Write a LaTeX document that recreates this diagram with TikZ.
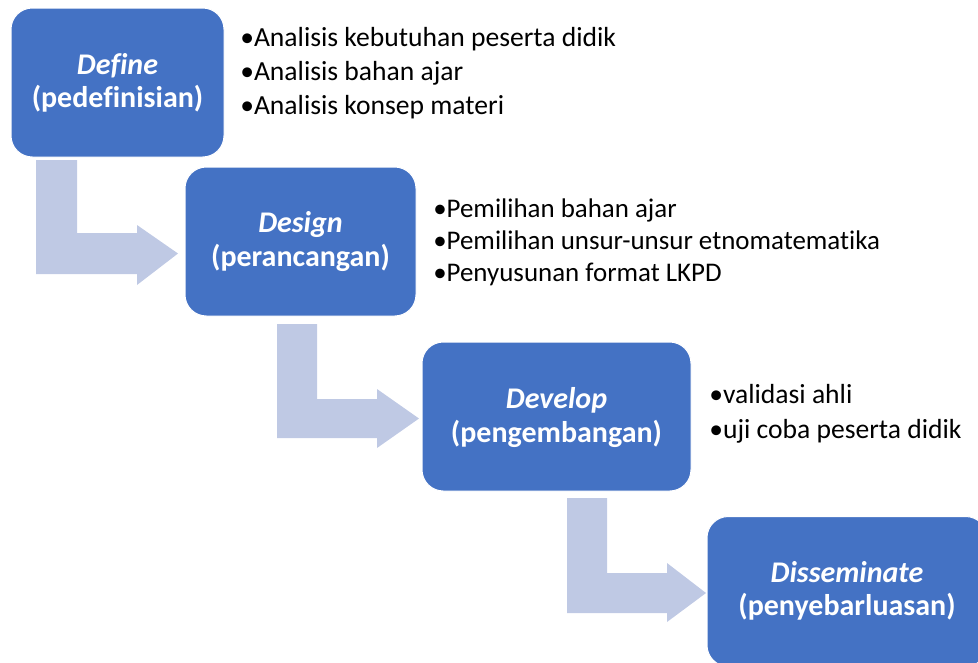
\documentclass[tikz,border=0pt]{standalone}
\usepackage{fontspec}
\setmainfont[Ligatures=NoCommon]{Carlito}
\definecolor{boxblue}{HTML}{4472C4}
\definecolor{arrowblue}{HTML}{BFC9E4}
\begin{document}
\begin{tikzpicture}[x=0.75pt,y=-0.75pt,
  stage/.style={draw=white, line width=0.75pt, fill=boxblue, rounded corners=16pt,
    minimum height=111.75pt, inner sep=0pt},
  ttl/.style={anchor=base, text=white, font=\fontsize{22.5}{26}\selectfont\bfseries\itshape, inner sep=0pt},
  sub/.style={anchor=base, text=white, font=\fontsize{22.5}{26}\selectfont\bfseries, inner sep=0pt},
  item/.style={anchor=base west, font=\fontsize{20.7}{25}\selectfont, inner sep=0pt, text=black},
  itemn/.style={item, font=\fontsize{20.2}{25}\selectfont},
  flow/.style={fill=arrowblue, draw=none}]
\useasboundingbox (0,0) rectangle (978,662);
\clip (0,0) rectangle (978,662);

% bent arrows
\fill[flow] (36,160) -- (77,160) -- (77,233) -- (137,233) -- (137,225) -- (178,253.5)
  -- (137,285) -- (137,274) -- (36,274) -- cycle;
\fill[flow] (277,324) -- (317,324) -- (317,399) -- (377,399) -- (377,389) -- (419,418.5)
  -- (377,448) -- (377,438) -- (277,438) -- cycle;
\fill[flow] (567,498) -- (607,498) -- (607,573) -- (667,573) -- (667,563) -- (706,593)
  -- (667,622) -- (667,613) -- (567,613) -- cycle;

% stages
\node[stage, minimum width=159.75pt] (define) at (117.5,82.5) {};
\node[stage, minimum width=173.25pt] (design) at (300.5,241.5) {};
\node[stage, minimum width=201.75pt] (develop) at (556.5,416.5) {};
\node[stage, minimum width=210pt, minimum height=112.5pt] (dissem) at (847,591.5) {};

\node[ttl] (defineA) at (117.5,74) {Define};
\node[sub] (defineB) at (117.5,107) {(pedefinisian)};
\node[ttl] (designA) at (300.5,232) {Design};
\node[sub] (designB) at (300.5,266) {(perancangan)};
\node[ttl] (developA) at (556.5,408) {Develop};
\node[sub] (developB) at (556.5,442) {(pengembangan)};
\node[ttl] (dissemA) at (847,582) {Disseminate};
\node[sub] (dissemB) at (847,615) {(penyebarluasan)};

% lists
\node[item] (l1a) at (240,46) {•Analisis kebutuhan peserta didik};
\node[item] (l1b) at (240,80) {•Analisis bahan ajar};
\node[item] (l1c) at (240,114) {•Analisis konsep materi};

\node[itemn] (l2a) at (433,217) {•Pemilihan bahan ajar};
\node[itemn] (l2b) at (433,249) {•Pemilihan unsur-unsur etnomatematika};
\node[itemn] (l2c) at (433,281) {•Penyusunan format LKPD};

\node[item] (l3a) at (709,403) {•validasi ahli};
\node[item] (l3b) at (709,438) {•uji coba peserta didik};
\end{tikzpicture}
\end{document}
